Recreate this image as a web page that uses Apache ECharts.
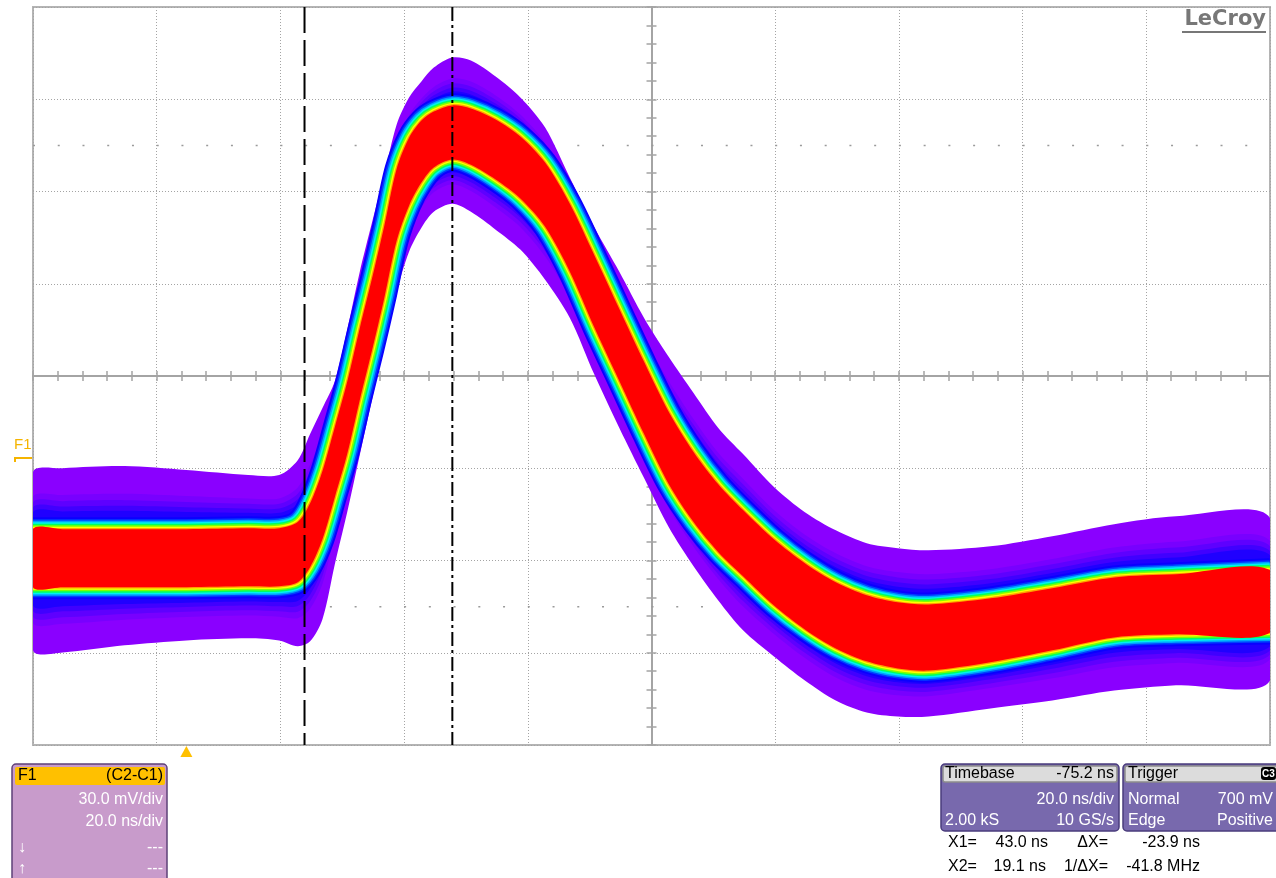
<!DOCTYPE html>
<html>
<head>
<meta charset="utf-8">
<title>LeCroy F1 persistence</title>
<script src="https://cdn.jsdelivr.net/npm/echarts@6/dist/echarts.min.js"></script>
<style>
  html, body { margin: 0; padding: 0; background: #fff; }
  #scope { width: 1276px; height: 878px; }
</style>
</head>
<body>
<div id="scope"></div>
<script>
// screen: 10 div x 20 ns, 8 div x 30 mV (F1 = C2-C1)
var timeMin = -24.8, timeMax = 175.2;
var mvMin = -93.3, mvMax = 146.7;

// sample times (ns) of the persistence trace
var timeNs = [-24.8, -20, -10, 0, 10, 15, 18, 20, 22, 24, 26, 28, 30, 32, 34, 36, 38, 40, 43, 46,
  50, 54, 58, 62, 66, 70, 74, 78, 82, 86, 90, 95, 100, 105, 110, 115, 120, 130, 140, 150, 160, 175.2];
// upper / lower edge of the red (dense) core, mV
var coreTop = [-23.1, -23.1, -23.1, -23.1, -22.8, -22.8, -20.8, -14.7, -4.2, 10.1, 24.8, 42.0, 58.3, 75.6, 94.1, 104.2, 109.8, 112.7, 114.7, 113.7,
  110.1, 104.6, 96.1, 82.7, 65.8, 48.5, 31.3, 15.0, 2.0, -8.5, -16.9, -26.4, -34.2, -40.4, -44.6, -46.9, -47.6, -45.6, -42.3, -38.8, -37.8, -36.5];
var coreBottom = [-42.0, -42.0, -42.0, -42.0, -41.7, -41.7, -40.4, -35.5, -26.4, -12.7, 1.3, 18.6, 34.9, 52.1, 70.7, 82.1, 89.6, 94.5, 97.1, 95.4,
  90.6, 84.4, 75.2, 60.6, 42.3, 25.1, 7.8, -8.5, -20.8, -30.6, -38.4, -47.9, -55.7, -61.9, -66.1, -68.4, -69.1, -66.4, -62.5, -58.3, -57.3, -56.7];
// outer (purple) envelope, mV
var outerTop = [-4.6, -3.3, -2.6, -3.9, -5.5, -5.5, -0.7, 7.8, 16.3, 25.1, 41.7, 60.3, 76.5, 92.2, 108.5, 117.3, 122.5, 127.0, 130.3, 129.3,
  124.1, 117.3, 107.5, 91.2, 74.9, 60.6, 45.6, 32.9, 21.2, 9.8, 1.3, -9.4, -17.6, -23.5, -27.7, -29.3, -30.0, -28.7, -25.4, -21.5, -18.9, -19.5];
var outerBottom = [-62.5, -63.2, -60.9, -59.3, -58.6, -59.3, -61.2, -59.6, -52.4, -34.5, -17.6, 0.7, 18.9, 36.8, 54.1, 67.1, 74.9, 80.1, 82.7, 80.1,
  74.3, 67.8, 58.0, 45.6, 27.0, 9.8, -6.5, -22.5, -35.2, -46.3, -56.0, -64.5, -72.3, -78.8, -82.7, -84.0, -84.0, -81.4, -78.8, -75.6, -73.9, -72.3];

// cursors X1, X2 (ns)
var cursorNs = [43.0, 19.1];
var cursorDash = [[14, 4, 3, 4], [26, 7]];

// dotted sub-rows of the graticule (div from centre)
var dotRowsDiv = [2.5, -2.5];

// persistence colour grading
var glowLayers = [[1, '#8a00ff'], [0.56, '#7800ff'], [0.46, '#5e00ff'], [0.37, '#4000ff'], [0.29, '#2000ff']];
var edgeLines = [[24, '#0a00ff'], [20, '#0040ff'], [17, '#00a0ff'], [14, '#00f0f0'], [11, '#00ff60'], [8, '#80ff00'], [5, '#ffff00'], [2.4, '#ffa000']];

var gridGray = '#a4a4a4';
var chart = echarts.init(document.getElementById('scope'));

function crossAxis(pos, isX) {
  return {
    type: 'value', position: pos,
    min: isX ? -5 : -4, max: isX ? 5 : 4, interval: 1,
    axisLine: { show: true, onZero: true, onZeroAxisIndex: 0, lineStyle: { color: gridGray, width: 2 } },
    axisTick: { show: true, length: 5, lineStyle: { color: gridGray, width: 1.5 } },
    minorTick: { show: true, splitNumber: 5, length: 5, lineStyle: { color: gridGray, width: 1.5 } },
    axisLabel: { show: false },
    splitLine: { show: false }
  };
}

var xDiv = crossAxis('bottom', true);
xDiv.splitLine = { show: true, lineStyle: { color: gridGray, width: 1, type: [1, 2] } };
var yDiv = crossAxis('left', false);
yDiv.splitLine = { show: true, lineStyle: { color: gridGray, width: 1, type: [1, 2] } };

function drawTrace(params, api) {
  function pts(arr) {
    return timeNs.map(function (t, i) { return api.coord([t, arr[i]]); });
  }
  function mix(a, b, f) {
    return a.map(function (v, i) { return v + f * (b[i] - v); });
  }
  var children = [];
  glowLayers.forEach(function (g) {
    var up = pts(mix(coreTop, outerTop, g[0]));
    var lo = pts(mix(coreBottom, outerBottom, g[0])).reverse();
    children.push({ type: 'polygon', shape: { points: up.concat(lo), smooth: 0.3 }, style: { fill: g[1] } });
  });
  edgeLines.forEach(function (e) {
    [coreTop, coreBottom].forEach(function (arr) {
      children.push({ type: 'polyline', shape: { points: pts(arr), smooth: 0.3 },
        style: { stroke: e[1], lineWidth: e[0], fill: null, lineJoin: 'round' } });
    });
  });
  children.push({ type: 'polygon', shape: { points: pts(coreTop).concat(pts(coreBottom).reverse()), smooth: 0.3 },
    style: { fill: '#ff0000' } });
  return { type: 'group', children: children };
}

function drawCursor(params, api) {
  var t = api.value(0);
  var a = api.coord([t, mvMax]), b = api.coord([t, mvMin]);
  return { type: 'line', shape: { x1: a[0], y1: a[1], x2: b[0], y2: b[1] },
    style: { stroke: '#000', lineWidth: 2, lineDash: cursorDash[params.dataIndex] } };
}

function drawDotRow(params, api) {
  var a = api.coord([-5, api.value(1)]), b = api.coord([5, api.value(1)]);
  return { type: 'line', shape: { x1: a[0], y1: a[1], x2: b[0], y2: b[1] },
    style: { stroke: '#9a9a9a', lineWidth: 1.5, lineDash: [2, 22.74] } };
}

option = {
  animation: false,
  backgroundColor: '#ffffff',
  grid: { left: 33, right: 6, top: 7, bottom: 133, show: true, borderColor: '#b4b4b4', borderWidth: 2 },
  xAxis: [
    xDiv,
    crossAxis('top', true),
    { type: 'value', min: timeMin, max: timeMax, show: false }
  ],
  yAxis: [
    yDiv,
    crossAxis('right', false),
    { type: 'value', min: mvMin, max: mvMax, show: false }
  ],
  series: [
    {
      name: 'graticule', type: 'custom', xAxisIndex: 0, yAxisIndex: 0, silent: true, z: 1,
      data: dotRowsDiv.map(function (d) { return [0, d]; }), renderItem: drawDotRow
    },
    {
      name: 'F1', type: 'custom', xAxisIndex: 2, yAxisIndex: 2, clip: true, silent: true,
      data: [[timeNs[0], 0]], renderItem: drawTrace
    },
    {
      name: 'cursors', type: 'custom', xAxisIndex: 2, yAxisIndex: 2, clip: true, silent: true, z: 5,
      data: cursorNs.map(function (t) { return [t, 0]; }), renderItem: drawCursor
    }
  ]
};

chart.setOption(option);

// annotations placed from the axes
var trigX = chart.convertToPixel({ xAxisIndex: 2 }, 0);
var zeroY = chart.convertToPixel({ yAxisIndex: 2 }, 0);
var font = '16px "Liberation Sans", "DejaVu Sans", sans-serif';
var orange = '#f5b400';

function txt(x, y, s, fill, align, f) {
  return { type: 'text', x: x, y: y, silent: true,
    style: { text: s, fill: fill, font: f || font, textAlign: align || 'left', textVerticalAlign: 'middle' } };
}
function box(x, y, w, h, fill, stroke, r) {
  return { type: 'rect', silent: true, shape: { x: x, y: y, width: w, height: h, r: r || 0 },
    style: { fill: fill, stroke: stroke || null, lineWidth: stroke ? 1.5 : 0 } };
}

chart.setOption({
  graphic: [
    // LeCroy logo
    txt(1266, 20, 'LeCroy', '#777777', 'right', 'bold 21px "DejaVu Sans", sans-serif'),
    box(1182, 31, 84, 2, '#777777'),
    // F1 trace marker
    txt(14, zeroY - 13, 'F1', orange, 'left', '15px "Liberation Sans", sans-serif'),
    { type: 'polyline', silent: true, shape: { points: [[15, zeroY + 4], [15, zeroY], [32, zeroY]] },
      style: { stroke: orange, lineWidth: 2, fill: null } },
    // trigger position
    { type: 'polygon', silent: true, shape: { points: [[trigX - 6, 757], [trigX + 6, 757], [trigX, 746]] },
      style: { fill: '#ffc000' } },

    // F1 descriptor
    box(12, 764, 155, 120, '#c89bcb', '#5e4278', 4),
    box(15, 767, 150, 18, '#ffc000', null, 2),
    txt(18, 776, 'F1', '#000'),
    txt(163, 776, '(C2-C1)', '#000', 'right'),
    txt(163, 800, '30.0 mV/div', '#fff', 'right'),
    txt(163, 822, '20.0 ns/div', '#fff', 'right'),
    txt(18, 848, '↓', '#fff'),
    txt(163, 848, '---', '#fff', 'right'),
    txt(18, 869, '↑', '#fff'),
    txt(163, 869, '---', '#fff', 'right'),

    // Timebase
    box(941, 764, 178, 67, '#7869ad', '#4a3c7c', 4),
    box(943, 766, 174, 16, '#dcdcdc', '#8c8c8c', 2),
    txt(945, 774, 'Timebase', '#000'),
    txt(1114, 774, '-75.2 ns', '#000', 'right'),
    txt(1114, 800, '20.0 ns/div', '#fff', 'right'),
    txt(945, 821, '2.00 kS', '#fff'),
    txt(1114, 821, '10 GS/s', '#fff', 'right'),

    // Trigger
    box(1123, 764, 160, 67, '#7869ad', '#4a3c7c', 4),
    box(1125, 766, 160, 16, '#dcdcdc', '#8c8c8c', 2),
    txt(1128, 774, 'Trigger', '#000'),
    box(1261, 767, 15, 13, '#000', null, 3),
    txt(1268.5, 774, 'C3', '#fff', 'center', 'bold 10px "Liberation Sans", sans-serif'),
    txt(1128, 800, 'Normal', '#fff'),
    txt(1273, 800, '700 mV', '#fff', 'right'),
    txt(1128, 821, 'Edge', '#fff'),
    txt(1273, 821, 'Positive', '#fff', 'right'),

    // cursor readout
    txt(948, 843, 'X1=', '#000'),
    txt(1048, 843, '43.0 ns', '#000', 'right'),
    txt(1108, 843, 'ΔX=', '#000', 'right'),
    txt(1200, 843, '-23.9 ns', '#000', 'right'),
    txt(948, 867, 'X2=', '#000'),
    txt(1046, 867, '19.1 ns', '#000', 'right'),
    txt(1108, 867, '1/ΔX=', '#000', 'right'),
    txt(1200, 867, '-41.8 MHz', '#000', 'right')
  ]
});
</script>
</body>
</html>
